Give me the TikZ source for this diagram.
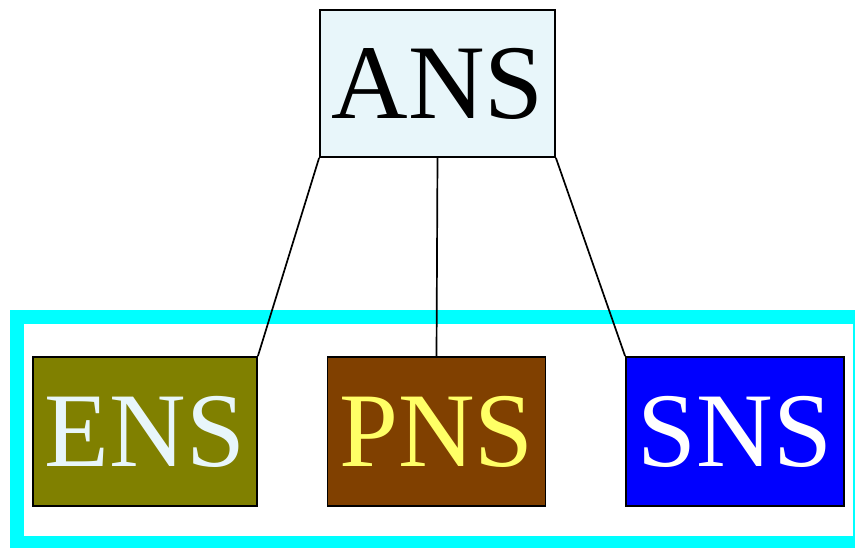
\documentclass[tikz,border=0pt]{standalone}
\usepackage{fontspec}
\setmainfont{Liberation Serif}
\definecolor{anscol}{HTML}{E8F6FA}
\definecolor{ensfill}{HTML}{808000}
\definecolor{pnsfill}{HTML}{804000}
\definecolor{pnstext}{HTML}{FFFF66}
\definecolor{framecol}{HTML}{00FFFF}
\begin{document}
\begin{tikzpicture}[x=1pt,y=-1pt,
  box/.style={draw=black, line width=1.8pt, rectangle, inner sep=0pt,
    font=\fontsize{106}{106}\selectfont, minimum height=149pt},
  link/.style={draw=black, line width=1.7pt},
  clusterframe/.style={draw=framecol, line width=14pt}]
\clip (0,0) rectangle (855,548);
\draw[clusterframe] (17,317) rectangle (860,543);
\node[box, fill=anscol, text=black, minimum width=235pt, minimum height=147pt] (ans) at (437.5,83.5) {ANS};
\node[box, fill=ensfill, text=anscol, minimum width=224pt] (ens) at (145,431.5) {ENS};
\node[box, fill=pnsfill, text=pnstext, minimum width=218pt] (pns) at (436.5,431.5) {PNS};
\node[box, fill=blue, text=white, minimum width=218pt] (sns) at (735,431.5) {SNS};
\draw[link] (ans.south west) -- (ens.north east);
\draw[link] (ans.south) -- (pns.north);
\draw[link] (ans.south east) -- (sns.north west);
\end{tikzpicture}
\end{document}
